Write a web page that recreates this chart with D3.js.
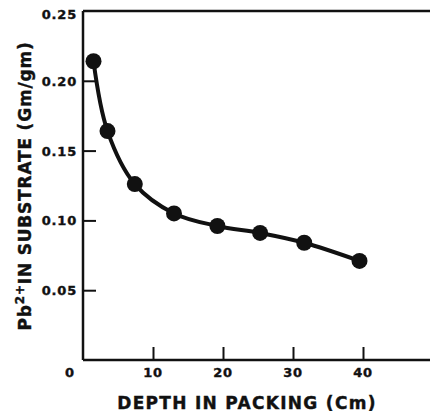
<!DOCTYPE html>
<html>
<head>
<meta charset="utf-8">
<script src="https://cdn.jsdelivr.net/npm/d3@7"></script>
<style>
  body { margin: 0; background: #fff; }
  svg text { font-family: "DejaVu Sans", sans-serif; font-weight: bold; fill: #111; stroke: #111; stroke-width: 0.4px; }
</style>
</head>
<body>
<svg id="chart" width="430" height="412"></svg>
<script>
// ── Data ─────────────────────────────────────────────────────────────────────

const depth = [1.5, 3.5, 7.4, 13.0, 19.2, 25.3, 31.6, 39.5];      // Cm
const pbConc = [0.214, 0.164, 0.126, 0.105, 0.096, 0.091, 0.084, 0.071]; // Gm/gm
const xTicks = [0, 10, 20, 30, 40];
const yTicks = [0.05, 0.10, 0.15, 0.20, 0.25];

// ── Layout ───────────────────────────────────────────────────────────────────

const svg = d3.select("#chart");
const x = d3.scaleLinear().domain([0, 50]).range([83, 433]);
const y = d3.scaleLinear().domain([0, 0.25]).range([360, 11]);

// frame: left, top, bottom (no right side)
const frame = svg.append("g").attr("stroke", "#111").attr("stroke-width", 2.5).attr("fill", "none");
frame.append("line").attr("x1", x(0)).attr("x2", x(0)).attr("y1", y(0.25)).attr("y2", y(0));
frame.append("line").attr("x1", x(0)).attr("x2", 430).attr("y1", y(0.25)).attr("y2", y(0.25));
frame.append("line").attr("x1", x(0)).attr("x2", 430).attr("y1", y(0)).attr("y2", y(0));

// y ticks point inward
const yAxis = d3.axisRight(y).tickValues(yTicks.filter((d) => d < 0.25)).tickSize(13).tickFormat("");
svg.append("g").attr("transform", `translate(${x(0)},0)`).call(yAxis)
  .call((g) => g.select(".domain").remove())
  .call((g) => g.selectAll("line").attr("stroke", "#111").attr("stroke-width", 2));

svg.append("g").selectAll("text").data(yTicks).join("text")
  .attr("x", 77).attr("y", (d) => y(d) + (d === 0.25 ? 8 : 5))
  .attr("text-anchor", "end").attr("font-size", 13).style("letter-spacing", "0.8px")
  .text((d) => d.toFixed(2));

// x ticks point up
const xAxis = d3.axisTop(x).tickValues(xTicks.filter((d) => d > 0)).tickSize(13).tickFormat("");
svg.append("g").attr("transform", `translate(0,${y(0)})`).call(xAxis)
  .call((g) => g.select(".domain").remove())
  .call((g) => g.selectAll("line").attr("stroke", "#111").attr("stroke-width", 2));

svg.append("g").selectAll("text").data(xTicks).join("text")
  .attr("x", (d) => d === 0 ? x(d) - 13 : x(d)).attr("y", 377)
  .attr("text-anchor", "middle").attr("font-size", 13).style("letter-spacing", "0.8px")
  .text((d) => d);

// axis titles
svg.append("text").attr("x", 247).attr("y", 409).attr("text-anchor", "middle")
  .attr("font-size", 17).style("letter-spacing", "1.3px").text("DEPTH IN PACKING (Cm)");

const yTitle = svg.append("text").attr("transform", "translate(31,186) rotate(-90)")
  .attr("text-anchor", "middle").attr("font-size", 17).style("letter-spacing", "0.8px");
yTitle.append("tspan").text("Pb");
yTitle.append("tspan").attr("dy", -7).attr("font-size", 12).text("2+");
yTitle.append("tspan").attr("dy", 7).text("IN SUBSTRATE (Gm/gm)");

// ── Curve and points ─────────────────────────────────────────────────────────

const pts = depth.map((d, i) => [d, pbConc[i]]);
const line = d3.line().x((d) => x(d[0])).y((d) => y(d[1])).curve(d3.curveCatmullRom.alpha(0.5));

svg.append("path").datum(pts).attr("d", line)
  .attr("fill", "none").attr("stroke", "#111").attr("stroke-width", 4);

svg.append("g").selectAll("circle").data(pts).join("circle")
  .attr("cx", (d) => x(d[0])).attr("cy", (d) => y(d[1])).attr("r", 8)
  .attr("fill", "#111");
</script>
</body>
</html>
